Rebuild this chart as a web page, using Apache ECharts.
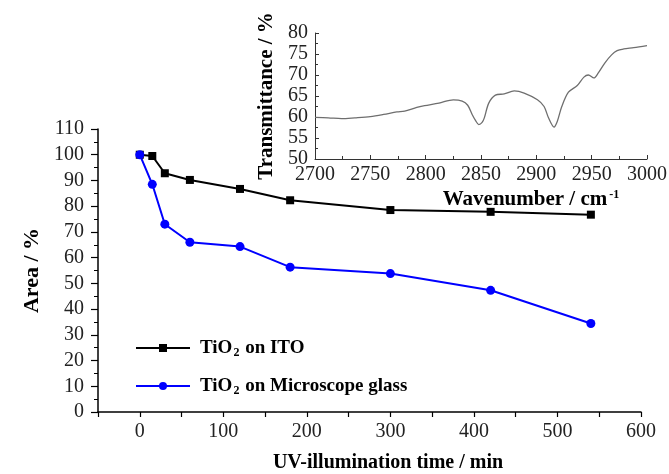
<!DOCTYPE html>
<html>
<head>
<meta charset="utf-8">
<script src="https://cdn.jsdelivr.net/npm/echarts@6/dist/echarts.min.js"></script>
<style>html,body{margin:0;padding:0;background:#fff}#c{width:669px;height:474px}</style>
</head>
<body>
<div id="c"></div>
<script>
// Main chart data
const timeMin = [0, 15, 30, 60, 120, 180, 300, 420, 540];
const areaITO = [100, 99.5, 92.8, 90.2, 86.7, 82.3, 78.5, 77.8, 76.7];
const areaGlass = [100, 88.5, 73, 66, 64.3, 56.3, 53.8, 47.3, 34.4];
const seriesNames = ['TiO2 on ITO', 'TiO2 on Microscope glass'];
const legendLabels = ['TiO{sub|2} on ITO', 'TiO{sub|2} on Microscope glass'];
// Inset IR spectrum data
const wavenumber = [2700, 2712, 2724, 2736, 2750, 2762, 2774, 2781, 2792, 2799, 2812, 2825, 2833, 2838, 2842, 2845, 2848, 2851, 2853, 2857, 2863, 2871, 2880, 2889, 2901, 2907, 2911, 2916, 2919, 2923, 2929, 2937, 2943, 2947, 2952, 2956, 2962, 2968, 2973, 2979, 2988, 3000];
const transmittance = [59.9, 59.8, 59.6, 59.8, 60.1, 60.6, 61.2, 61.4, 62.3, 62.7, 63.3, 64.1, 63.8, 62.8, 60.6, 59.2, 58.2, 58.7, 59.8, 63.3, 65.2, 65.5, 66.2, 65.7, 64.1, 62.5, 59.8, 57.6, 59.0, 62.5, 65.9, 67.5, 69.5, 70.0, 69.3, 70.5, 72.9, 74.8, 75.8, 76.2, 76.5, 77.0];
// Tick settings
const mainXTicks = {min: -50, max: 600, interval: 50};
const mainYTicks = {min: 0, max: 110, interval: 10};
const insetXTicks = {min: 2700, max: 3000, interval: 50};
const insetYTicks = {min: 50, max: 80, interval: 5};

const serif = '"Liberation Serif", "DejaVu Serif", serif';
const chart = echarts.init(document.getElementById('c'), null, {renderer: 'canvas'});

const richSub = {sub: {fontSize: 12, fontWeight: 'bold', fontFamily: serif, verticalAlign: 'bottom', padding: [10, 1, 0, 1], color: '#000'}};

function legendFor(idx, top) {
  return {
    data: [seriesNames[idx]], left: 135, top: top, orient: 'vertical', padding: 0,
    itemWidth: 54, itemHeight: 10,
    formatter: () => legendLabels[idx],
    textStyle: {fontFamily: serif, fontSize: 19, fontWeight: 'bold', color: '#000', padding: [0, 0, 0, 5], lineHeight: 22, rich: richSub}
  };
}

chart.setOption({
  animation: false,
  backgroundColor: '#fff',
  legend: [legendFor(0, 337), legendFor(1, 375)],
  grid: [
    {left: 98, right: 28, top: 129, bottom: 62, containLabel: false, outerBoundsMode: 'none'},
    {left: 315, right: 22, top: 33, bottom: 315, containLabel: false, outerBoundsMode: 'none'}
  ],
  xAxis: [
    {
      gridIndex: 0, type: 'value', min: mainXTicks.min, max: mainXTicks.max, interval: mainXTicks.interval,
      name: 'UV-illumination time / min', nameLocation: 'middle', nameGap: 41,
      nameTextStyle: {fontFamily: serif, fontSize: 20, fontWeight: 'bold', color: '#000', padding: [0, 0, 0, 37]},
      axisLine: {onZero: false, lineStyle: {color: '#000', width: 1.5}},
      axisTick: {show: true, length: 5, lineStyle: {color: '#000', width: 1.2}},
      axisLabel: {margin: 10, fontFamily: serif, fontSize: 20, color: '#222', formatter: v => (v % 100 === 0 ? String(v) : '')},
      splitLine: {show: false}
    },
    {
      gridIndex: 1, type: 'value', min: insetXTicks.min, max: insetXTicks.max, interval: insetXTicks.interval,
      name: 'Wavenumber / cm{sup|-1}', nameLocation: 'middle', nameGap: 30,
      nameTextStyle: {fontFamily: serif, fontSize: 21, fontWeight: 'bold', color: '#000', padding: [0, 0, 0, 100],
        rich: {sup: {fontSize: 12, fontWeight: 'bold', fontFamily: serif, verticalAlign: 'top', padding: [0, 0, 10, 2], color: '#000'}}},
      axisLine: {onZero: false, lineStyle: {color: '#333', width: 1}},
      axisTick: {show: true, inside: true, length: 4, lineStyle: {color: '#333'}},
      minorTick: {show: true, splitNumber: 2, length: 3, lineStyle: {color: '#333'}},
      axisLabel: {margin: 6, fontFamily: serif, fontSize: 20, color: '#222', formatter: v => String(v)},
      splitLine: {show: false}
    }
  ],
  yAxis: [
    {
      gridIndex: 0, type: 'value', min: mainYTicks.min, max: mainYTicks.max, interval: mainYTicks.interval,
      name: 'Area / %', nameLocation: 'middle', nameGap: 54,
      nameTextStyle: {fontFamily: serif, fontSize: 22, fontWeight: 'bold', color: '#000'},
      axisLine: {show: true, onZero: false, lineStyle: {color: '#000', width: 1.5}},
      axisTick: {show: true, length: 7, lineStyle: {color: '#000', width: 1.2}},
      minorTick: {show: true, splitNumber: 2, length: 4, lineStyle: {color: '#000'}},
      axisLabel: {margin: 14, fontFamily: serif, fontSize: 20, color: '#222'},
      splitLine: {show: false}
    },
    {
      gridIndex: 1, type: 'value', min: insetYTicks.min, max: insetYTicks.max, interval: insetYTicks.interval,
      name: 'Transmittance / %', nameLocation: 'middle', nameGap: 38,
      nameTextStyle: {fontFamily: serif, fontSize: 21, fontWeight: 'bold', color: '#000'},
      axisLine: {show: true, onZero: false, lineStyle: {color: '#333', width: 1}},
      axisTick: {show: true, inside: true, length: 4, lineStyle: {color: '#333'}},
      minorTick: {show: true, splitNumber: 2, length: 3, lineStyle: {color: '#333'}},
      axisLabel: {margin: 7, fontFamily: serif, fontSize: 20, color: '#222'},
      splitLine: {show: false}
    }
  ],
  series: [
    {
      name: seriesNames[0], type: 'line', xAxisIndex: 0, yAxisIndex: 0,
      data: timeMin.map((t, i) => [t, areaITO[i]]),
      symbol: 'rect', symbolSize: 8,
      lineStyle: {color: '#000', width: 2}, itemStyle: {color: '#000'}
    },
    {
      name: seriesNames[1], type: 'line', xAxisIndex: 0, yAxisIndex: 0,
      data: timeMin.map((t, i) => [t, areaGlass[i]]),
      symbol: 'circle', symbolSize: 9,
      lineStyle: {color: '#0000ff', width: 2}, itemStyle: {color: '#0000ff'}
    },
    {
      name: 'IR', type: 'line', xAxisIndex: 1, yAxisIndex: 1,
      data: wavenumber.map((w, i) => [w, transmittance[i]]),
      symbol: 'none', smooth: 0.3,
      lineStyle: {color: '#6e6e6e', width: 1.3}
    }
  ]
});
</script>
</body>
</html>
